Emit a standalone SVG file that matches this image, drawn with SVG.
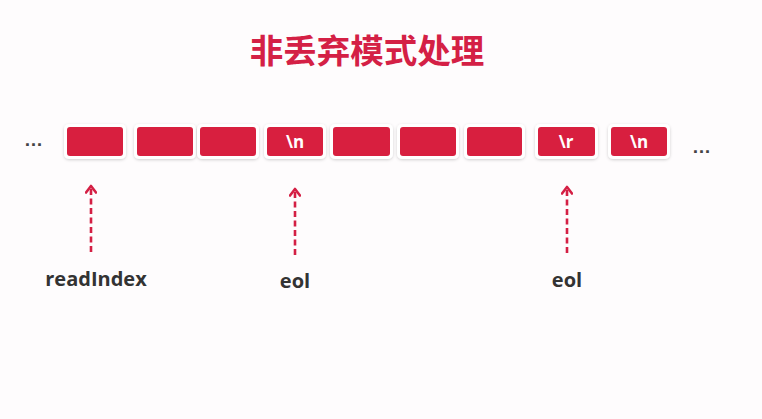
<svg xmlns="http://www.w3.org/2000/svg" width="762" height="419" viewBox="0 0 762 419">
<defs>
<filter id="sh" x="-20%" y="-30%" width="140%" height="160%">
<feDropShadow dx="0" dy="1" stdDeviation="1.5" flood-color="#000" flood-opacity="0.18"/>
</filter>
<marker id="ah" viewBox="0 0 10 12" markerWidth="10" markerHeight="12" refX="8" refY="6" orient="auto" markerUnits="userSpaceOnUse">
<polyline points="1.5,1 8,6 1.5,11" fill="none" stroke="#d41f44" stroke-width="2.6" stroke-linecap="round" stroke-linejoin="round"/>
</marker>
</defs>
<style>
.frame{fill:#fff;filter:url(#sh)}
.cell{fill:#d81f3f}
.ct{font-family:"Open Sans","Liberation Sans",sans-serif;font-weight:bold;font-size:17px;fill:#fff;text-anchor:middle}
.lbl{font-family:"Open Sans","Liberation Sans",sans-serif;font-weight:bold;font-size:20px;fill:#333;text-anchor:middle}
.dots{font-family:"Liberation Sans",sans-serif;font-weight:bold;font-size:19px;fill:#444}
.arr{stroke:#d41f44;stroke-width:2.6;stroke-dasharray:6 3.5;fill:none}
</style>
<rect width="762" height="419" fill="#fefcfd"/>
<text x="367" y="63" font-family="'Noto Sans CJK SC','Noto Sans CJK JP',sans-serif" font-weight="bold" font-size="33.5" fill="#d42045" text-anchor="middle">非丢弃模式处理</text>
<text class="dots" x="24" y="146">…</text>
<text class="dots" x="692" y="153">…</text>
<g id="n1"><rect class="frame" x="64" y="124" width="62" height="35" rx="5"/><rect class="cell" x="67" y="127" width="56" height="29" rx="3"/></g>
<g id="n2"><rect class="frame" x="134" y="124" width="62" height="35" rx="5"/><rect class="cell" x="137" y="127" width="56" height="29" rx="3"/></g>
<g id="n3"><rect class="frame" x="197" y="124" width="62" height="35" rx="5"/><rect class="cell" x="200" y="127" width="56" height="29" rx="3"/></g>
<g id="n4"><rect class="frame" x="264" y="124" width="62" height="35" rx="5"/><rect class="cell" x="267" y="127" width="56" height="29" rx="3"/><text class="ct" x="295" y="148">\n</text></g>
<g id="n5"><rect class="frame" x="330" y="124" width="63" height="35" rx="5"/><rect class="cell" x="333" y="127" width="57" height="29" rx="3"/></g>
<g id="n6"><rect class="frame" x="397" y="124" width="62" height="35" rx="5"/><rect class="cell" x="400" y="127" width="56" height="29" rx="3"/></g>
<g id="n7"><rect class="frame" x="464" y="124" width="61" height="35" rx="5"/><rect class="cell" x="467" y="127" width="55" height="29" rx="3"/></g>
<g id="n8"><rect class="frame" x="535" y="124" width="63" height="35" rx="5"/><rect class="cell" x="538" y="127" width="57" height="29" rx="3"/><text class="ct" x="566" y="148">\r</text></g>
<g id="n9"><rect class="frame" x="608" y="124" width="62" height="35" rx="5"/><rect class="cell" x="611" y="127" width="56" height="29" rx="3"/><text class="ct" x="639" y="148">\n</text></g>
<g id="connectors">
<line class="arr" x1="91" y1="252" x2="91" y2="186" marker-end="url(#ah)"/>
<line class="arr" x1="295" y1="255" x2="295" y2="189" marker-end="url(#ah)"/>
<line class="arr" x1="567" y1="253" x2="567" y2="187" marker-end="url(#ah)"/>
</g>
<g id="labels">
<text class="lbl" x="96" y="286">readIndex</text>
<text class="lbl" x="295" y="288">eol</text>
<text class="lbl" x="567" y="287">eol</text>
</g>
</svg>
